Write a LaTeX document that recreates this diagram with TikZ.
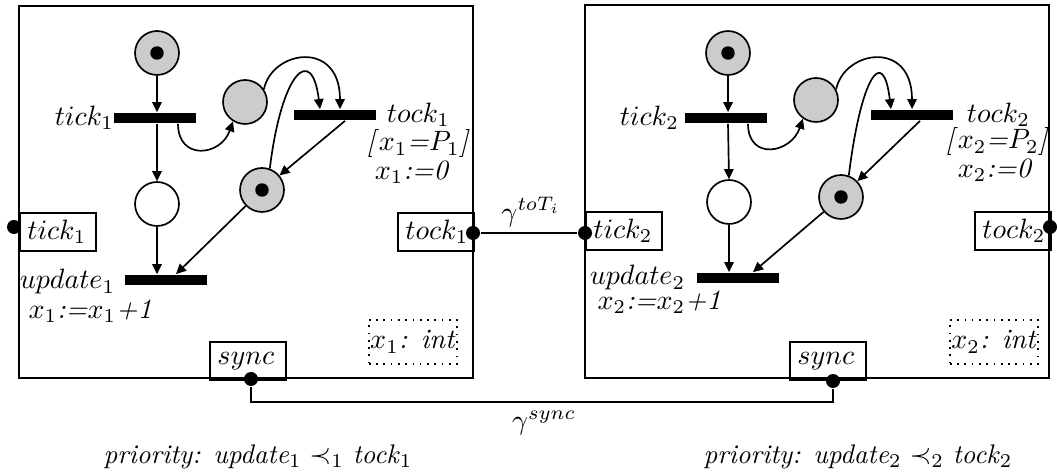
\documentclass[tikz,border=0pt]{standalone}
\usetikzlibrary{arrows.meta,calc}
\begin{document}
\begin{tikzpicture}[x=0.35714pt,y=-0.35714pt,
  line width=0.6pt,
  >={Triangle[length=3.6pt,width=3.4pt]},
  place/.style={circle,draw,minimum size=15.7pt,inner sep=0pt},
  gplace/.style={place,fill=gray!40},
  trans/.style={rectangle,fill=black,minimum width=29.6pt,minimum height=3.6pt,inner sep=0pt},
  tok/.style={circle,fill=black,minimum size=4.8pt,inner sep=0pt},
  port/.style={draw,rectangle,minimum height=13.6pt,text width=21.8pt,inner xsep=2.7pt,inner ysep=0pt,align=left,anchor=north west},
  vbox/.style={draw,dotted,rectangle,minimum width=30.7pt,minimum height=15.7pt,inner sep=0.5pt,anchor=north west},
  pdot/.style={circle,fill=black,minimum size=5pt,inner sep=0pt},
  lbl/.style={inner sep=1pt}
]
\useasboundingbox (0,0) rectangle (1057,472);

% ---------- module 1 ----------
\draw (19,6) rectangle (473,378);
\node[gplace] (pA1) at (157,53) {};
\node[tok] (kA1) at (pA1) {};
\node[trans] (tA1) at (155,118) {};
\node[gplace] (pB1) at (245,102) {};
\node[trans] (tB1) at (335,115) {};
\node[gplace] (pC1) at (262,190) {};
\node[tok] (kC1) at (pC1) {};
\node[place] (pD1) at (157,204) {};
\node[trans] (tC1) at (166,280) {};

\draw[->] (pA1.south) -- (pA1.south |- tA1.north);
\draw[->] (pA1.south |- tA1.south) -- (pD1.north);
\draw[->] (pD1.south) -- (pD1.south |- tC1.north);
\draw[->] ($(tA1.south)+(23,0)$) .. controls +(0,37) and +(-12,35) .. (pB1.-122);
\draw[->] (pB1.34) .. controls +(8,-39) and +(0,-70) .. ($(tB1.north)+(5,0)$);
\draw[->] (pC1.70) .. controls +(12,-98) and +(-8,-65) .. ($(tB1.north)+(-15,0)$);
\draw[->] ($(tB1.south)+(10,0)$) -- (pC1);
\draw[->] (pC1) -- ($(tC1.north)+(10,0)$);

\node[inner sep=0pt,anchor=east] (lA1) at ($(tA1.west)+(2,0)$) {$tick_1$};
\node[lbl,anchor=west] (lB1) at ($(tB1.east)+(6,0)$) {$tock_1$};
\node[lbl] (gB1) at (418,144) {\textit{[}$x_1$\textit{=}$P_1$\textit{]}};
\node[lbl] (aB1) at (412,172) {$x_1$\textit{:=0}};
\node[lbl,anchor=east] (lC1) at ($(tC1.west)+(-5,2)$) {$update_1$};
\node[lbl,anchor=west] (aC1) at (25,311) {$x_1$\textit{:=}$x_1$\textit{+1}};

\node[port] (pt1) at (19,212) {$tick_1$};
\node[port] (pk1) at (397,212) {$tock_1$};
\node[port] (ps1) at (209,341) {$sync$};
\node[vbox] (v1) at (368,319) {$x_1$\textit{: int}};

\node[pdot] (dt1) at (14,227) {};
\node[pdot] (dk1) at (473,233) {};
\node[pdot] (ds1) at (251,379) {};

% ---------- module 2 ----------
\draw (585,5) rectangle (1049,378);
\node[gplace] (pA2) at (728,53) {};
\node[tok] (kA2) at (pA2) {};
\node[trans] (tA2) at (726,118) {};
\node[gplace] (pB2) at (816,100) {};
\node[trans] (tB2) at (912,115) {};
\node[gplace] (pC2) at (841,197) {};
\node[tok] (kC2) at (pC2) {};
\node[place] (pD2) at (729,202) {};
\node[trans] (tC2) at (738,278) {};

\draw[->] (pA2.south) -- (pA2.south |- tA2.north);
\draw[->] (pA2.south |- tA2.south) -- (pD2.north);
\draw[->] (pD2.south) -- (pD2.south |- tC2.north);
\draw[->] ($(tA2.south)+(22,0)$) .. controls +(0,37) and +(-12,35) .. (pB2.-125);
\draw[->] (pB2.28) .. controls +(8,-39) and +(0,-70) .. ($(tB2.north)+(0,0)$);
\draw[->] (pC2.70) .. controls +(12,-98) and +(-8,-65) .. ($(tB2.north)+(-21,0)$);
\draw[->] ($(tB2.south)+(8,0)$) -- (pC2);
\draw[->] (pC2) -- ($(tC2.north)+(15,0)$);

\node[inner sep=0pt,anchor=east] (lA2) at ($(tA2.west)+(-4,0)$) {$tick_2$};
\node[lbl,anchor=west] (lB2) at ($(tB2.east)+(9,0)$) {$tock_2$};
\node[lbl] (gB2) at (997,142) {\textit{[}$x_2$\textit{=}$P_2$\textit{]}};
\node[lbl] (aB2) at (995,170) {$x_2$\textit{:=0}};
\node[lbl,anchor=east] (lC2) at ($(tC2.west)+(-7,0)$) {$update_2$};
\node[lbl,anchor=west] (aC2) at (594,302) {$x_2$\textit{:=}$x_2$\textit{+1}};

\node[port] (pt2) at (585,211) {$tick_2$};
\node[port] (pk2) at (974,211) {$tock_2$};
\node[port] (ps2) at (789,341) {$sync$};
\node[vbox] (v2) at (949,319) {$x_2$\textit{: int}};

\node[pdot] (dt2) at (585,233) {};
\node[pdot] (dk2) at (1050,227) {};
\node[pdot] (ds2) at (833,381) {};

% ---------- connectors between modules ----------
\draw (dk1) -- (dt2);
\node[lbl] (gT) at (531,212) {$\gamma^{toT_i}$};
\coordinate (sy) at (542,402);
\draw (ds1) |- (sy) -| (ds2);
\node[lbl] (gS) at (544,423) {$\gamma^{sync}$};

\node[lbl,anchor=west] (pr1) at (100,457) {\fontsize{9.6}{11}\selectfont\textit{priority: update}$_1 \prec_1$ \textit{tock}$_1$};
\node[lbl,anchor=west] (pr2) at (700,457) {\fontsize{9.6}{11}\selectfont\textit{priority: update}$_2 \prec_2$ \textit{tock}$_2$};
\end{tikzpicture}
\end{document}
